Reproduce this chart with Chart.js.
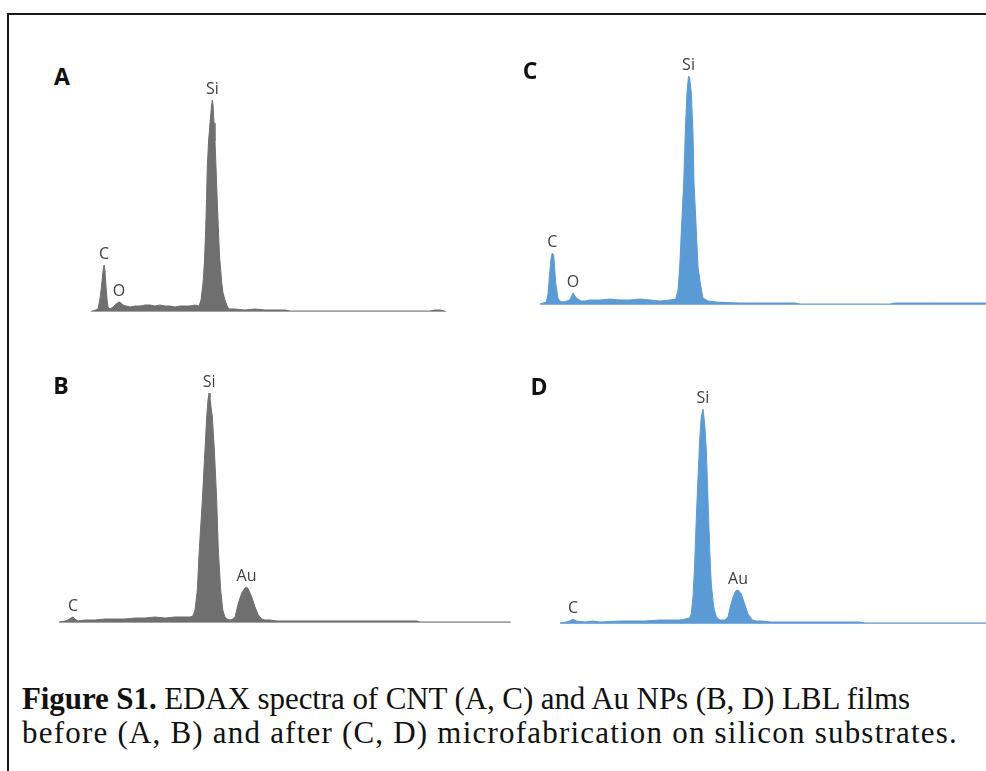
<!DOCTYPE html>
<html>
<head>
<meta charset="utf-8">
<script src="https://cdn.jsdelivr.net/npm/chart.js@4.4.1/dist/chart.umd.min.js"></script>
<style>
    html, body { margin: 0; padding: 0; background: #fff; }
    body { width: 986px; height: 771px; position: relative; overflow: hidden; }
    .frame {
        position: absolute; left: 7px; top: 13px;
        width: 1100px; height: 900px;
        border: 2px solid #1a1a1a;
    }
    .panel-canvas { position: absolute; }
    .panel-letter {
        position: absolute;
        font-family: "Open Sans", "Liberation Sans", sans-serif;
        font-weight: 700; font-size: 23px; color: #111;
        line-height: 1; transform: translate(-50%, -50%);
    }
    .caption {
        position: absolute; left: 22px; top: 682px;
        font-family: "Liberation Serif", "DejaVu Serif", serif;
        font-size: 31px; line-height: 34px; color: #111;
        white-space: nowrap;
    }
    .caption span { display: inline-block; }
</style>
</head>
<body>
<div class="frame"></div>

<canvas id="chartA" class="panel-canvas"></canvas>
<canvas id="chartB" class="panel-canvas"></canvas>
<canvas id="chartC" class="panel-canvas"></canvas>
<canvas id="chartD" class="panel-canvas"></canvas>

<div class="panel-letter" style="left:62px; top:76px;">A</div>
<div class="panel-letter" style="left:530px; top:70px;">C</div>
<div class="panel-letter" style="left:61px; top:385px;">B</div>
<div class="panel-letter" style="left:539px; top:386px;">D</div>

<div class="caption">
    <span data-width="888"><b>Figure S1.</b> EDAX spectra of CNT (A, C) and Au NPs (B, D) LBL films</span><br>
    <span data-width="936">before (A, B) and after (C, D) microfabrication on silicon substrates.</span>
</div>

<script>
// EDAX spectra, energy in keV, counts
const energyA = [0.114, 0.160, 0.195, 0.222, 0.243, 0.263, 0.277, 0.290, 0.304, 0.317, 0.331, 0.358,
    0.399, 0.439, 0.480, 0.507, 0.534, 0.575, 0.629, 0.697, 0.765, 0.833, 0.900, 0.968, 1.036, 1.104,
    1.172, 1.239, 1.307, 1.375, 1.443, 1.510, 1.565, 1.592, 1.619, 1.639, 1.656, 1.666, 1.677, 1.694,
    1.714, 1.734, 1.745, 1.755, 1.768, 1.781, 1.795, 1.812, 1.826, 1.843, 1.873, 1.890, 1.917, 1.945,
    1.972, 2.053, 2.188, 2.324, 2.459, 2.595, 2.731, 2.798, 4.697, 4.764, 4.832, 4.900];
const countsA = [0, 10, 20, 120, 250, 400, 460, 400, 240, 120, 40, 20,
    40, 70, 90, 80, 60, 50, 40, 50, 50, 60, 60, 50, 60, 50,
    50, 40, 50, 50, 50, 60, 50, 110, 280, 500, 840, 1100, 1440, 1700,
    1880, 2050, 2110, 2050, 1880, 1700, 1440, 1100, 840, 550, 280, 180, 110, 50,
    20, 20, 10, 20, 10, 10, 10, 0, 0, 10, 10, 0];

const energyB = [0.150, 0.214, 0.245, 0.277, 0.298, 0.319, 0.351, 0.425, 0.531, 0.637, 0.742, 0.848,
    0.954, 1.060, 1.166, 1.271, 1.377, 1.483, 1.536, 1.567, 1.589, 1.613, 1.634, 1.666, 1.694, 1.712,
    1.726, 1.737, 1.747, 1.758, 1.772, 1.793, 1.818, 1.835, 1.860, 1.882, 1.906, 1.927, 1.959, 1.990,
    2.012, 2.047, 2.083, 2.117, 2.133, 2.152, 2.188, 2.223, 2.258, 2.294, 2.329, 2.382, 2.456, 2.699,
    3.016, 3.334, 3.651, 3.936, 3.967, 4.920];
const countsB = [0, 10, 20, 40, 50, 30, 10, 20, 20, 30, 30, 30,
    40, 40, 50, 40, 50, 50, 50, 60, 120, 320, 720, 1220, 1720, 2050,
    2220, 2290, 2240, 2150, 2050, 1720, 1220, 720, 320, 120, 50, 30, 20, 30,
    50, 190, 290, 340, 350, 330, 250, 150, 70, 30, 20, 20, 10, 10,
    10, 10, 10, 10, 0, 0];

const energyC = [0.140, 0.208, 0.226, 0.244, 0.258, 0.272, 0.287, 0.309, 0.333, 0.352, 0.387, 0.430,
    0.459, 0.495, 0.530, 0.584, 0.624, 0.677, 0.785, 0.892, 1.000, 1.108, 1.215, 1.323, 1.430, 1.538,
    1.599, 1.624, 1.642, 1.667, 1.685, 1.702, 1.720, 1.737, 1.749, 1.767, 1.785, 1.796, 1.814, 1.839,
    1.863, 1.892, 1.946, 2.035, 2.129, 2.290, 2.505, 2.882, 2.935, 3.903, 3.957, 4.333, 4.656, 4.925, 5.000];
const countsC = [0, 20, 100, 310, 450, 510, 490, 210, 60, 30, 20, 30,
    40, 110, 60, 30, 30, 40, 40, 50, 40, 40, 50, 40, 30, 40,
    50, 140, 370, 870, 1210, 1710, 2110, 2280, 2260, 2110, 1710, 1210, 870, 370,
    210, 60, 30, 20, 15, 10, 10, 10, 0, 0, 10, 10, 10, 10, 0];

const energyD = [0.130, 0.197, 0.238, 0.274, 0.311, 0.408, 0.496, 0.574, 0.793, 0.907, 1.074, 1.241,
    1.385, 1.463, 1.518, 1.570, 1.588, 1.607, 1.626, 1.644, 1.663, 1.681, 1.699, 1.718, 1.737, 1.755,
    1.774, 1.793, 1.810, 1.837, 1.866, 1.907, 1.962, 1.996, 2.021, 2.051, 2.081, 2.107, 2.143, 2.181,
    2.218, 2.266, 2.310, 2.385, 2.462, 2.796, 3.129, 3.462, 3.518, 4.950];
const countsD = [0, 10, 20, 40, 20, 10, 20, 10, 20, 20, 20, 30,
    30, 30, 40, 50, 90, 260, 590, 1060, 1460, 1830, 2060, 2140, 1990, 1730,
    1230, 730, 390, 160, 60, 30, 30, 60, 160, 260, 320, 330, 290, 190,
    90, 30, 20, 20, 10, 10, 10, 10, 0, 0];

// element lines marked on each spectrum (keV)
const elementsA = ['C', 'O', 'Si'];
const elementEnergyA = [0.277, 0.525, 1.740];
const elementsB = ['C', 'Si', 'Au'];
const elementEnergyB = [0.277, 1.740, 2.120];
const elementsC = ['C', 'O', 'Si'];
const elementEnergyC = [0.277, 0.525, 1.740];
const elementsD = ['C', 'Si', 'Au'];
const elementEnergyD = [0.277, 1.740, 2.120];

const COUNTS_MAX = 2400;
const GRAY = '#6f6f6f';
const BLUE = '#5b9bd5';

// puts the element name just above the highest point near its line
const peakLabels = {
    id: 'peakLabels',
    afterDatasetsDraw(chart, args, opts) {
        const ctx = chart.ctx;
        const xs = chart.scales.x;
        const ys = chart.scales.y;
        const data = chart.data.datasets[0].data;
        ctx.save();
        ctx.font = '16px "Open Sans", "Liberation Sans", sans-serif';
        ctx.fillStyle = '#404040';
        ctx.textAlign = 'center';
        ctx.textBaseline = 'bottom';
        opts.names.forEach((name, i) => {
            const e = opts.energies[i];
            let best = null;
            data.forEach(p => {
                if (Math.abs(p.x - e) <= 0.08 && (!best || p.y > best.y)) best = p;
            });
            if (!best) return;
            ctx.fillText(name, xs.getPixelForValue(best.x), ys.getPixelForValue(best.y) - 3);
        });
        ctx.restore();
    }
};

function makeSpectrum(id, energy, counts, names, energies, box) {
    const padL = 20, padR = 10, padT = 40;
    const areaH = 240;
    const canvas = document.getElementById(id);
    const w = (box.right - box.left) + padL + padR;
    const h = padT + areaH + 1;
    canvas.width = w;
    canvas.height = h;
    canvas.style.width = w + 'px';
    canvas.style.height = h + 'px';
    canvas.style.left = (box.left - padL) + 'px';
    canvas.style.top = (box.baseline - areaH - padT) + 'px';

    return new Chart(canvas.getContext('2d'), {
        type: 'line',
        data: {
            datasets: [{
                data: energy.map((e, i) => ({ x: e, y: counts[i] })),
                borderColor: box.color,
                backgroundColor: box.color,
                borderWidth: 1,
                pointRadius: 0,
                tension: 0,
                fill: 'origin'
            }]
        },
        options: {
            responsive: false,
            animation: false,
            devicePixelRatio: 1,
            layout: { padding: { left: padL, right: padR, top: padT, bottom: 0 } },
            scales: {
                x: {
                    type: 'linear',
                    min: box.min,
                    max: box.max,
                    ticks: { display: false },
                    grid: { display: false, drawTicks: false },
                    border: { display: true, color: box.axisColor, width: 1 },
                    afterFit: (scale) => { scale.height = 1; }
                },
                y: {
                    display: false,
                    min: 0,
                    max: COUNTS_MAX
                }
            },
            plugins: {
                legend: { display: false },
                tooltip: { enabled: false },
                peakLabels: { names: names, energies: energies }
            }
        },
        plugins: [peakLabels]
    });
}

// stretch each caption line to the width it has in the original figure
function fitCaption() {
    document.querySelectorAll('.caption span').forEach(span => {
        const target = Number(span.dataset.width);
        const chars = span.textContent.length;
        const natural = span.getBoundingClientRect().width;
        span.style.letterSpacing = ((target - natural) / chars) + 'px';
    });
}

document.addEventListener('DOMContentLoaded', () => {
    fitCaption();
    makeSpectrum('chartA', energyA, countsA, elementsA, elementEnergyA,
        { left: 91, right: 445, baseline: 311, min: 0.1, max: 4.9, color: GRAY, axisColor: '#a3a3a3' });
    makeSpectrum('chartB', energyB, countsB, elementsB, elementEnergyB,
        { left: 59, right: 510, baseline: 622, min: 0.15, max: 4.92, color: GRAY, axisColor: '#a3a3a3' });
    makeSpectrum('chartC', energyC, countsC, elementsC, elementEnergyC,
        { left: 540, right: 992, baseline: 304, min: 0.14, max: 5.0, color: BLUE, axisColor: '#86aedb' });
    makeSpectrum('chartD', energyD, countsD, elementsD, elementEnergyD,
        { left: 560, right: 994, baseline: 623, min: 0.13, max: 4.95, color: BLUE, axisColor: '#86aedb' });
});
</script>
</body>
</html>
